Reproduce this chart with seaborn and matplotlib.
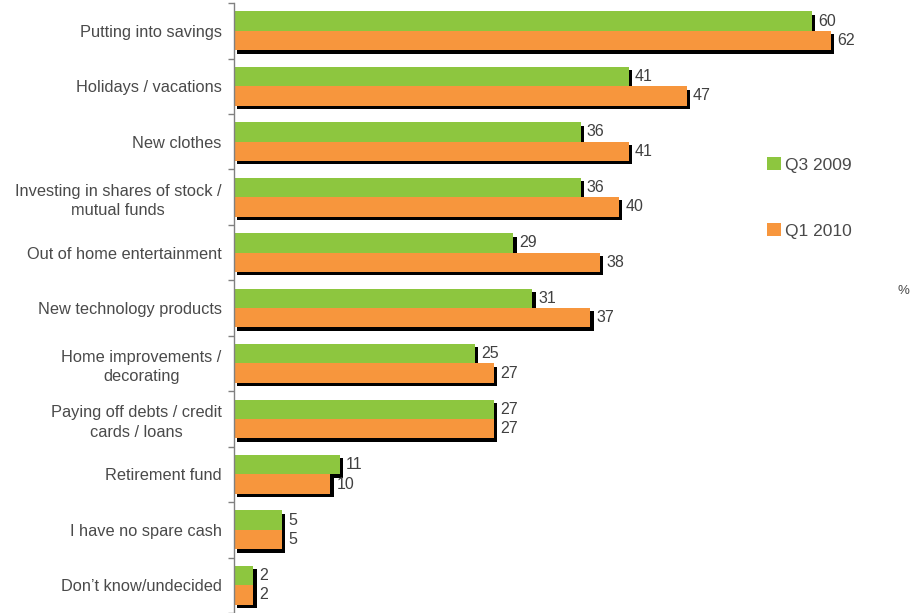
import matplotlib
matplotlib.use("Agg")
import matplotlib.pyplot as plt
import matplotlib.patheffects as pe
from matplotlib.patches import Patch
from matplotlib.ticker import FixedLocator
import seaborn as sns
import pandas as pd
import numpy as np

categories = [
    "Putting into savings",
    "Holidays / vacations",
    "New clothes",
    "Investing in shares of stock /\nmutual funds",
    "Out of home entertainment",
    "New technology products",
    "Home improvements /\ndecorating",
    "Paying off debts / credit\ncards / loans",
    "Retirement fund",
    "I have no spare cash",
    "Don\u2019t know/undecided",
]
q3_2009 = [60, 41, 36, 36, 29, 31, 25, 27, 11, 5, 2]
q1_2010 = [62, 47, 41, 40, 38, 37, 27, 27, 10, 5, 2]
series_names = ["Q3 2009", "Q1 2010"]
colors = ["#8DC63F", "#F7963D"]

df = pd.DataFrame({
    "category": categories * 2,
    "value": q3_2009 + q1_2010,
    "period": [series_names[0]] * len(categories) + [series_names[1]] * len(categories),
})

sns.set_theme(style="white")
plt.rcParams["font.family"] = ["Liberation Sans", "DejaVu Sans"]

fig = plt.figure(figsize=(9.22, 6.13), dpi=100)
ax = fig.add_axes([234 / 922, 0.0, 0.731, 0.995])

sns.barplot(data=df, y="category", x="value", hue="period", orient="h",
            palette=colors, width=0.7, saturation=1, ax=ax,
            order=categories, hue_order=series_names, legend=False)

shadow = [pe.SimplePatchShadow(offset=(2.4, -2.4), shadow_rgbFace="black", alpha=1.0), pe.Normal()]
for p in ax.patches:
    p.set_path_effects(shadow)
    p.set_edgecolor("none")

for cont in ax.containers:
    ax.bar_label(cont, padding=4.5, fontsize=11.5, color="#404040")

ax.set_xlim(0, 70)
ax.set_ylim(len(categories) - 0.5, -0.5)
ax.set_xlabel("")
ax.set_ylabel("")
ax.set_xticks([])

for s in ["top", "right", "bottom"]:
    ax.spines[s].set_visible(False)
ax.spines["left"].set_color("#808080")
ax.spines["left"].set_linewidth(1.0)

ax.tick_params(axis="y", which="major", length=0, pad=9, labelsize=11.8, labelcolor="#4a4a4a")
ax.yaxis.set_minor_locator(FixedLocator(np.arange(-0.5, len(categories), 1.0)))
ax.tick_params(axis="y", which="minor", length=4, width=1, color="#808080", direction="out", left=True)
for lbl in ax.get_yticklabels():
    lbl.set_multialignment("center")
    lbl.set_linespacing(1.35)

handles = [Patch(facecolor=c, edgecolor="none") for c in colors]
leg = fig.legend(handles, series_names, loc="upper left", bbox_to_anchor=(760 / 922, 1 - 150 / 613),
                 frameon=False, fontsize=12.5, labelspacing=2.9, handlelength=0.8,
                 handleheight=0.8, handletextpad=0.25, borderaxespad=0)
for t in leg.get_texts():
    t.set_color("#4a4a4a")

fig.text(903 / 922, 1 - 291 / 613, "%", fontsize=9.5, color="#4a4a4a", ha="center", va="center")

fig.savefig("out.png", dpi=100)
